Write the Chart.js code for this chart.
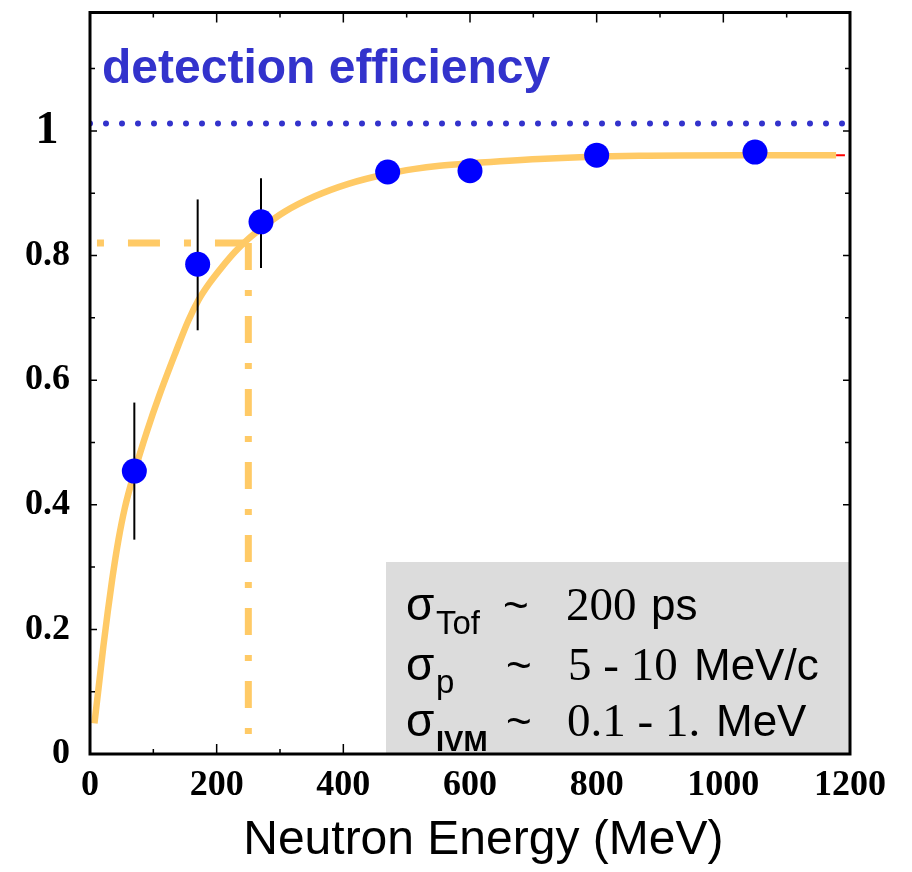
<!DOCTYPE html>
<html><head><meta charset="utf-8">
<script src="https://cdn.jsdelivr.net/npm/chart.js@4.4.1/dist/chart.umd.min.js"></script>
<style>html,body{margin:0;padding:0;background:#fff}canvas{display:block}</style>
</head><body>
<canvas id="c" width="912" height="872"></canvas>
<script>
// ---- data ----
const energy     = [70, 170, 270, 470, 600, 800, 1050];
const efficiency = [0.454, 0.786, 0.854, 0.934, 0.936, 0.961, 0.966];
const errHigh    = [0.564, 0.890, 0.924, null, null, null, null];
const errLow     = [0.344, 0.680, 0.780, null, null, null, null];

const fitEnergy = [7, 14, 21, 28, 35, 45, 55, 70, 90, 110, 135, 155, 171, 189, 208, 229, 247, 276, 307, 355, 408, 465, 513, 552, 600, 709, 867, 1024, 1178];
const fitEff    = [0.049, 0.110, 0.172, 0.228, 0.280, 0.344, 0.395, 0.452, 0.518, 0.577, 0.644, 0.695, 0.728, 0.756, 0.781, 0.806, 0.824, 0.848, 0.870, 0.895, 0.915, 0.930, 0.939, 0.944, 0.948, 0.955, 0.960, 0.961, 0.961];
const fitTailEnergy = [1178, 1192];
const fitTailEff    = [0.961, 0.961];

const unitEnergy = [0, 1200];
const unitEff    = [1.012, 1.012];

const refHEnergy = [11, 250];
const refHEff    = [0.82, 0.82];
const refVEnergy = [250, 250];
const refVEff    = [0.82, 0];

const xTickValues = [0, 200, 400, 600, 800, 1000, 1200];
const yTickValues = [0, 0.2, 0.4, 0.6, 0.8, 1];

const SERIF = '"Liberation Serif", "Times New Roman", serif';
const SANS  = '"Liberation Sans", Arial, Helvetica, sans-serif';
const ORANGE = '#FFCA66';

const pts = (xs, ys) => xs.map((x, i) => ({x, y: ys[i]}));

const overlay = {
  id: 'overlay',
  afterDatasetDraw(chart, args) {
    if (args.index !== 2) return;
    const {ctx, scales: {x, y}} = chart;
    ctx.save();
    ctx.strokeStyle = '#000';
    ctx.lineWidth = 2;
    energy.forEach((e, i) => {
      if (errHigh[i] == null) return;
      const px = x.getPixelForValue(e);
      ctx.beginPath();
      ctx.moveTo(px, y.getPixelForValue(errHigh[i]));
      ctx.lineTo(px, y.getPixelForValue(errLow[i]));
      ctx.stroke();
    });
    ctx.restore();
  },
  afterDraw(chart) {
    const {ctx, chartArea: a, scales: {x, y}} = chart;
    ctx.save();
    // inward ticks
    ctx.strokeStyle = '#000';
    ctx.lineWidth = 1.5;
    x.ticks.forEach(t => {
      const v = t.value;
      if (v <= 0 || v >= 1200) return;
      const px = x.getPixelForValue(v);
      const len = (v % 200 === 0) ? 10 : 5;
      ctx.beginPath();
      ctx.moveTo(px, a.bottom); ctx.lineTo(px, a.bottom - len);
      ctx.moveTo(px, a.top); ctx.lineTo(px, a.top + len);
      ctx.stroke();
    });
    y.ticks.forEach(t => {
      const v = t.value;
      const k = Math.round(v * 10);
      if (Math.abs(v * 10 - k) > 1e-6 || k <= 0) return;
      const py = y.getPixelForValue(v);
      const len = (k % 2 === 0) ? 7 : 5;
      ctx.beginPath();
      ctx.moveTo(a.left, py); ctx.lineTo(a.left + len, py);
      ctx.moveTo(a.right, py); ctx.lineTo(a.right - len, py);
      ctx.stroke();
    });
    // info box
    const bx = 386, by = 562, bw = a.right - 386, bh = a.bottom - 562;
    ctx.fillStyle = '#DCDCDC';
    ctx.fillRect(bx, by, bw, bh);
    ctx.strokeStyle = '#555';
    ctx.lineWidth = 1.5;
    ctx.beginPath();
    ctx.moveTo(a.right, by); ctx.lineTo(a.right, a.bottom); ctx.lineTo(bx, a.bottom);
    ctx.stroke();
    // frame
    ctx.strokeStyle = '#000';
    ctx.lineWidth = 3;
    ctx.strokeRect(a.left, a.top, a.right - a.left, a.bottom - a.top);
    // title text
    ctx.fillStyle = '#3333CC';
    ctx.font = 'bold 48px ' + SANS;
    ctx.textBaseline = 'alphabetic';
    ctx.textAlign = 'left';
    ctx.fillText('detection efficiency', 102, 83);
    // box text
    ctx.fillStyle = '#000';
    const put = (txt, font, px, py) => { ctx.font = font; ctx.fillText(txt, px, py); };
    const sig = '46px ' + SANS, sub = '33px ' + SANS, tl = '44px ' + SANS, num = '47px ' + SERIF;
    // line 1
    put('\u03C3', sig, 406, 620);
    put('Tof', sub, 436, 634);
    put('~', tl, 503, 620);
    put('200', num, 566, 620);
    put('ps', tl, 651, 620);
    // line 2
    put('\u03C3', sig, 406, 680);
    put('p', sub, 436, 693);
    put('~', tl, 506, 680);
    put('5 - 10', num, 568, 680);
    put('MeV/c', tl, 694, 680);
    // line 3
    put('\u03C3', sig, 406, 736);
    put('IVM', 'bold 29px ' + SANS, 436, 751);
    put('~', tl, 506, 736);
    put('0.1 - 1.', num, 567, 736);
    put('MeV', tl, 716, 736);
    ctx.restore();
  }
};

new Chart(document.getElementById('c'), {
  type: 'scatter',
  data: {
    datasets: [
      { // 0 markers (drawn last / on top)
        data: pts(energy, efficiency),
        showLine: false,
        pointRadius: 12.5,
        pointBackgroundColor: '#0000FF',
        pointBorderWidth: 0,
        pointBorderColor: '#0000FF'
      },
      { // 1 unit efficiency dotted line
        data: pts(unitEnergy, unitEff),
        showLine: true,
        borderColor: '#3333CC',
        borderWidth: 6,
        borderDash: [0, 16],
        borderCapStyle: 'round',
        pointRadius: 0
      },
      { // 2 fit curve
        data: pts(fitEnergy, fitEff),
        showLine: true,
        borderColor: ORANGE,
        borderWidth: 6.5,
        cubicInterpolationMode: 'monotone',
        pointRadius: 0
      },
      { // 3 red tail of fit
        data: pts(fitTailEnergy, fitTailEff),
        showLine: true,
        borderColor: '#FF0000',
        borderWidth: 2,
        pointRadius: 0
      },
      { // 4 horizontal reference
        data: pts(refHEnergy, refHEff),
        showLine: true,
        borderColor: ORANGE,
        borderWidth: 7,
        borderDash: [7, 24, 32, 24],
        pointRadius: 0
      },
      { // 5 vertical reference
        data: pts(refVEnergy, refVEff),
        showLine: true,
        borderColor: ORANGE,
        borderWidth: 7,
        borderDash: [27, 20, 6, 20],
        pointRadius: 0
      }
    ]
  },
  options: {
    responsive: false,
    animation: false,
    devicePixelRatio: 1,
    layout: { padding: { left: 0, top: 6, right: 62, bottom: 0 } },
    plugins: { legend: { display: false }, tooltip: { enabled: false } },
    scales: {
      x: {
        type: 'linear',
        min: 0, max: 1200,
        grid: { display: false, drawTicks: false },
        border: { display: false },
        afterFit: s => { s.height = 118; s.paddingLeft = 0; s.paddingRight = 0; },
        ticks: {
          stepSize: 100,
          autoSkip: false,
          maxRotation: 0,
          padding: 10,
          color: '#000',
          font: { family: SERIF, size: 36, weight: 'bold' },
          callback: v => xTickValues.includes(v) ? String(v) : ''
        },
        title: {
          display: true,
          text: '\u00a0\u00a0Neutron Energy (MeV)',
          color: '#000',
          font: { family: SANS, size: 48 },
          padding: { top: 0, bottom: 2 }
        }
      },
      y: {
        type: 'linear',
        min: 0, max: 1.19,
        grid: { display: false, drawTicks: false },
        border: { display: false },
        afterFit: s => { s.width = 90; s.paddingTop = 0; s.paddingBottom = 0; },
        ticks: {
          stepSize: 0.1,
          includeBounds: false,
          autoSkip: false,
          padding: 20,
          color: '#000',
          font: ctx => (ctx.tick && Math.abs(ctx.tick.value - 1) < 1e-6)
            ? { family: SERIF, size: 46, weight: 'bold' }
            : { family: SERIF, size: 36, weight: 'bold' },
          callback: v => {
            const k = Math.round(v * 10);
            if (Math.abs(v * 10 - k) > 1e-6) return '';
            const match = yTickValues.find(t => Math.abs(t - v) < 1e-6);
            if (match === undefined) return '';
            return match === 1 ? '1 ' : String(match);
          }
        }
      }
    }
  },
  plugins: [overlay]
});
</script>
</body></html>
